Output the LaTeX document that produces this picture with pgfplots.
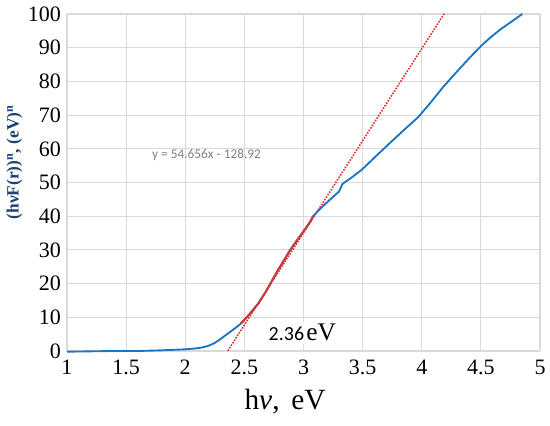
\documentclass[border=0pt]{standalone}
\usepackage{fontspec}
\setmainfont{Liberation Serif}
\newfontfamily\serifnums{Liberation Serif}
\newfontfamily\calfont{Carlito}
\usepackage{pgfplots}
\pgfplotsset{compat=1.18}
\definecolor{cblue}{RGB}{28,117,192}
\definecolor{cred}{RGB}{220,50,50}
\definecolor{labblue}{RGB}{30,65,115}
\definecolor{gridc}{RGB}{217,217,217}
\begin{document}
\begin{tikzpicture}
\begin{axis}[
  scale only axis,
  width=354.75pt, height=252.75pt,
  xmin=1, xmax=5, ymin=0, ymax=100,
  xtick={1,1.5,2,2.5,3,3.5,4,4.5,5},
  ytick={0,10,20,30,40,50,60,70,80,90,100},
  xticklabel={\mbox{\serifnums\fontsize{16.5}{18}\selectfont\pgfmathprintnumber[assume math mode=true]{\tick}}},
  yticklabel={\mbox{\serifnums\fontsize{16.5}{18}\selectfont\pgfmathprintnumber[assume math mode=true]{\tick}}},
  grid=major,
  major grid style={gridc, line width=0.8pt},
  axis line style={draw=none},
  major tick length=0pt,
  xticklabel style={yshift=-3pt},
  yticklabel style={xshift=-1pt},
  clip=false,
]
\addplot[cred, densely dotted, line width=1.2pt] coordinates {(2.36,0.07) (4.19,100.1)};
\addplot[cblue, line width=1.4pt] coordinates {
(1.0,-0.2) (1.2,-0.1) (1.4,0) (1.6,0) (1.8,0.2) (2.0,0.5) (2.1,0.8) (2.15,1.1)
(2.2,1.6) (2.25,2.4) (2.3,3.6) (2.35,4.9) (2.40,6.2) (2.46,7.8) (2.49,8.8) (2.55,11.2)
(2.62,14.2) (2.68,17.5) (2.72,20) (2.78,23.8) (2.84,27.2) (2.88,29.6) (2.94,32.6)
(3.0,35.5) (3.05,38) (3.08,40) (3.15,42.5) (3.22,44.8) (3.3,47.3) (3.33,49.6)
(3.4,51.3) (3.49,53.7) (3.6,57.4) (3.73,61.7) (3.85,65.6) (3.97,69.4) (4.07,73.5)
(4.18,78.3) (4.3,83) (4.41,87.2) (4.51,90.8) (4.58,93) (4.66,95.3) (4.75,97.5) (4.85,100)};
\addplot[cred, line width=1.4pt] coordinates {
(2.47,8.2) (2.55,11.2) (2.62,14.2) (2.68,17.5) (2.72,20) (2.78,23.8) (2.84,27.2)
(2.88,29.6) (2.94,32.6) (3.0,35.5) (3.05,38) (3.08,39.8)};
\node[text=black!50] at (axis cs:2.18,58.2) {{\calfont\fontsize{10}{12}\selectfont y = 54.656x - 128.92}};
\node[fill=white, inner xsep=5pt, inner ysep=2pt] at (axis cs:2.99,5.4) {{\calfont\fontsize{15}{17}\selectfont 2.36}\,{\rmfamily\fontsize{19}{22}\selectfont eV}};
\node[rotate=90, text=labblue] at (axis description cs:-0.111,0.56) {\fontsize{13}{15}\selectfont\bfseries (hνF(r))\textsuperscript{n}, (eV)\textsuperscript{n}};
\node[anchor=base] at (axis description cs:0.461,-0.175) {\fontsize{22}{24}\selectfont h\textit{ν},\hspace{0.4em}eV};
\end{axis}
\pgfresetboundingbox
\path[use as bounding box] (current axis.south west) ++(-50.25pt,-55.5pt) rectangle ([xshift=7.5pt,yshift=10.5pt]current axis.north east);
\end{tikzpicture}
\end{document}
